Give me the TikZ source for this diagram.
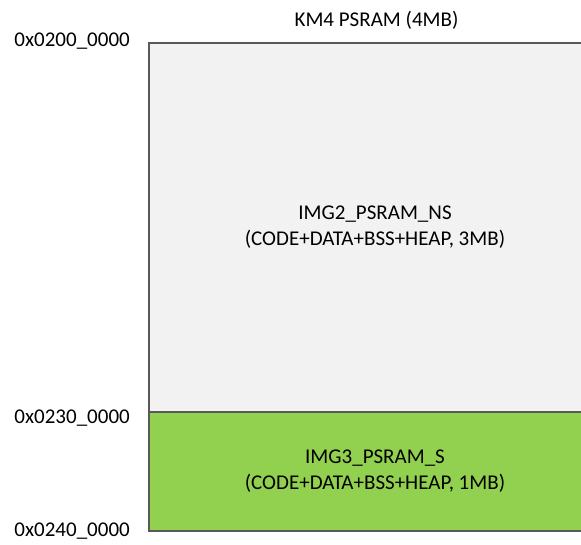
\documentclass[tikz,border=0pt]{standalone}
\usepackage{fontspec}
\setmainfont{Carlito}
\definecolor{memline}{HTML}{595959}
\definecolor{nsgray}{HTML}{F2F2F2}
\definecolor{sgreen}{HTML}{92D050}
\begin{document}
\begin{tikzpicture}[
    x=1pt, y=1pt,
    every node/.style={font=\fontsize{21}{26}\selectfont},
    region/.style={draw=memline, line width=2pt, minimum width=452pt,
        inner sep=0pt, outer sep=0pt, align=center, anchor=north west},
    addr/.style={anchor=east, inner sep=0pt}
    ]
    \useasboundingbox (0,0) rectangle (581,544);
    \clip (0,0) rectangle (581,544);

    \node (title) at (376.5,524) {KM4 PSRAM (4MB)};

    \node[region, fill=nsgray, minimum height=369pt] (NS) at (149,501)
        {IMG2\_PSRAM\_NS\\(CODE+DATA+BSS+HEAP, 3MB)};
    \node[region, fill=sgreen, minimum height=119pt] (S) at (NS.south west)
        {IMG3\_PSRAM\_S\\(CODE+DATA+BSS+HEAP, 1MB)};

    \node[addr] (a0) at (130,502.5) {0x0200\_0000};
    \node[addr] (a1) at (130,125.5) {0x0230\_0000};
    \node[addr] (a2) at (130,12.5) {0x0240\_0000};

\end{tikzpicture}
\end{document}
